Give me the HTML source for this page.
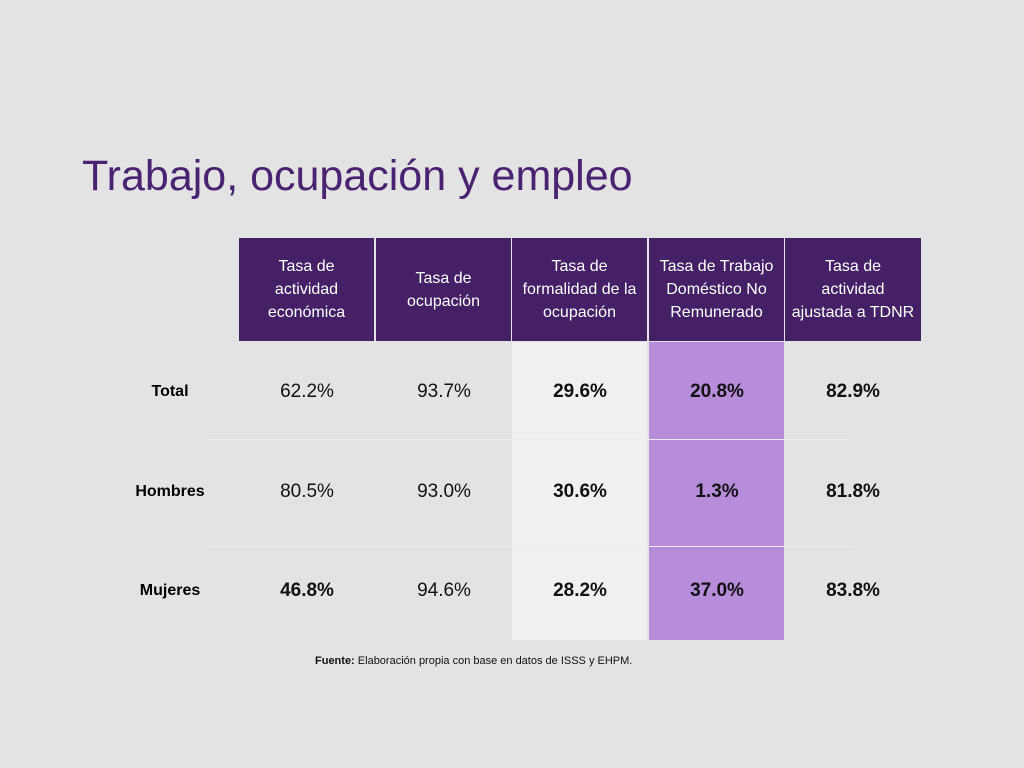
<!DOCTYPE html>
<html><head><meta charset="utf-8"><style>
body{margin:0;width:1024px;height:768px;background:#e3e3e3;position:relative;overflow:hidden;font-family:"Liberation Sans Narrow","Liberation Sans",sans-serif;}
.a{position:absolute}
.t{left:82px;top:152px;font-family:"Liberation Sans",sans-serif;font-size:43px;color:#4a2272;white-space:nowrap;letter-spacing:0px}
.h{background:#452066;color:#fff;top:238px;height:103px;width:135px;display:flex;align-items:center;justify-content:center;text-align:center;font-size:16px;line-height:23px}
.v{width:136px;text-align:center;font-size:19px;color:#111;transform:translateY(-50%)}
.b{font-weight:bold}
.l{width:120px;left:110px;text-align:center;font-size:16px;font-weight:bold;color:#000;transform:translateY(-50%)}
.ln{left:207px;width:645px;height:1px;background:#ececec}
</style></head><body>
<div class="a t">Trabajo, ocupación y empleo</div>
<div class="a" style="left:512px;top:342px;width:135px;height:298px;background:#f0f0f0"></div>
<div class="a" style="left:649px;top:342px;width:135px;height:298px;background:#b68cdb"></div>
<div class="a ln" style="top:439px"></div>
<div class="a ln" style="top:546px"></div>
<div class="a h" style="left:239px">Tasa de<br>actividad<br>económica</div>
<div class="a h" style="left:376px">Tasa de<br>ocupación</div>
<div class="a h" style="left:512px">Tasa de<br>formalidad de la<br>ocupación</div>
<div class="a h" style="left:649px">Tasa de Trabajo<br>Doméstico No<br>Remunerado</div>
<div class="a h" style="left:785px;width:136px">Tasa de<br>actividad<br>ajustada a TDNR</div>

<div class="a l" style="top:392px">Total</div>
<div class="a l" style="top:492px">Hombres</div>
<div class="a l" style="top:591px">Mujeres</div>

<div class="a v" style="left:239px;top:392px">62.2%</div>
<div class="a v" style="left:376px;top:392px">93.7%</div>
<div class="a v b" style="left:512px;top:392px">29.6%</div>
<div class="a v b" style="left:649px;top:392px">20.8%</div>
<div class="a v b" style="left:785px;top:392px">82.9%</div>

<div class="a v" style="left:239px;top:492px">80.5%</div>
<div class="a v" style="left:376px;top:492px">93.0%</div>
<div class="a v b" style="left:512px;top:492px">30.6%</div>
<div class="a v b" style="left:649px;top:492px">1.3%</div>
<div class="a v b" style="left:785px;top:492px">81.8%</div>

<div class="a v b" style="left:239px;top:591px">46.8%</div>
<div class="a v" style="left:376px;top:591px">94.6%</div>
<div class="a v b" style="left:512px;top:591px">28.2%</div>
<div class="a v b" style="left:649px;top:591px">37.0%</div>
<div class="a v b" style="left:785px;top:591px">83.8%</div>

<div class="a" style="left:315px;top:655px;font-size:11px;color:#111;white-space:nowrap"><b>Fuente:</b> Elaboración propia con base en datos de ISSS y EHPM.</div>
</body></html>
